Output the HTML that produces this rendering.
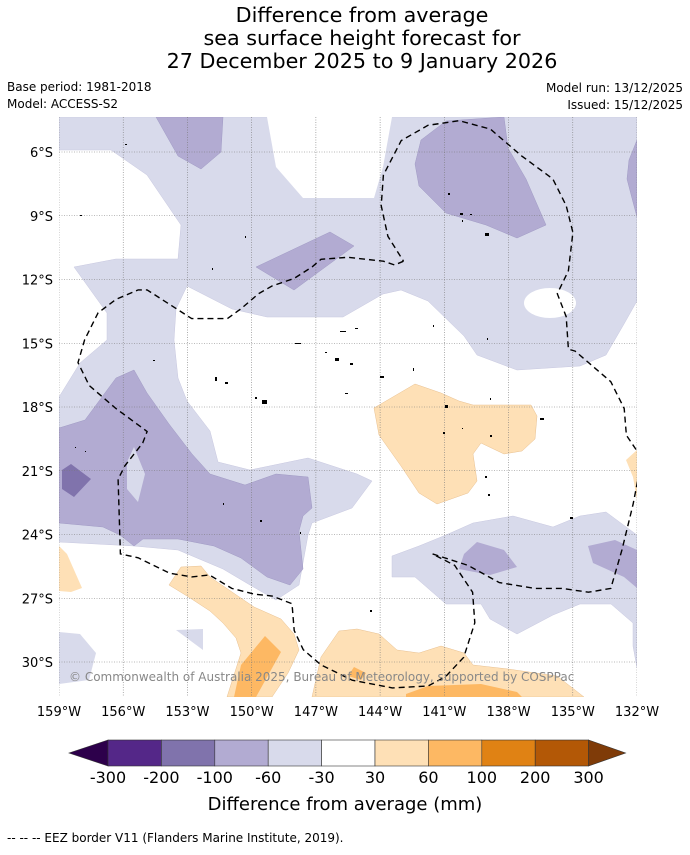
<!DOCTYPE html>
<html><head><meta charset="utf-8"><style>
body{margin:0;background:#fff;font-family:"Liberation Sans","DejaVu Sans",sans-serif;}
svg text{font-family:"DejaVu Sans","Liberation Sans",sans-serif;}
</style></head><body>
<svg id="chart" width="690" height="850" viewBox="0 0 690 850" xmlns="http://www.w3.org/2000/svg">
<g font-size="20.7" text-anchor="middle" fill="#000">
<text x="362" y="22">Difference from average</text>
<text x="362" y="45">sea surface height forecast for</text>
<text x="362" y="68">27 December 2025 to 9 January 2026</text>
</g>
<g font-size="12" fill="#000">
<text x="7" y="91">Base period: 1981-2018</text>
<text x="7" y="108">Model: ACCESS-S2</text>
<text x="683" y="92" text-anchor="end">Model run: 13/12/2025</text>
<text x="683" y="109" text-anchor="end">Issued: 15/12/2025</text>
</g>
<defs><clipPath id="mapclip"><rect x="59" y="117" width="578" height="580"/></clipPath></defs>
<g id="map" clip-path="url(#mapclip)">
<rect x="59" y="117" width="578" height="580" fill="#fff"/>
<g stroke-width="0.5">
<polygon fill="#d8daeb" stroke="#c8c8e0" points="59,117 637,117 637,301 624,324 606,355 580,366 517,370 477,355 464,336 428,301 401,290 383,294 343,317 267,317 232,309 187,286 176,309 174,340 178,378 187,401 210,431 218,462 250,470 308,458 357,474 372,481 352,508 312,523 308,535 299,585 276,600 250,585 223,569 178,550 134,546 59,542 59,397 80,363 107,340 107,313 74,267 116,259 178,259 181,225 147,175 111,150 59,150"/>
<polygon fill="#fff" stroke="none" points="267,117 392,117 383,167 374,198 303,198 276,167"/>
<ellipse cx="550" cy="303" rx="26" ry="15" fill="#fff"/>
<polygon fill="#d8daeb" stroke="#c8c8e0" points="392,556 419,546 446,535 473,523 513,516 553,527 580,516 606,512 637,535 637,668 633,646 633,623 611,604 580,604 553,615 517,634 490,619 481,604 446,604 415,577 392,577"/>
<polygon fill="#d8daeb" points="59,632 80,634 96,653 89,680 59,684"/>
<polygon fill="#d8daeb" points="176,630 203,629 203,650"/>
<polygon fill="#b2abd2" stroke="#a09ac4" points="156,117 223,117 221,152 201,169 178,156"/>
<polygon fill="#b2abd2" stroke="#a09ac4" points="256,267 330,232 354,246 294,290"/>
<polygon fill="#b2abd2" stroke="#a09ac4" points="421,140 446,121 504,117 508,148 526,179 546,225 517,238 486,225 446,213 419,186 415,164"/>
<polygon fill="#b2abd2" stroke="#a09ac4" points="637,140 629,160 627,179 633,202 637,217"/>
<polygon fill="#b2abd2" stroke="#a09ac4" points="59,428 85,420 116,378 134,370 147,393 169,424 192,454 210,474 245,485 276,474 308,477 312,508 303,516 299,531 303,569 290,585 267,577 241,558 214,546 178,539 143,539 134,546 120,535 103,527 59,523"/>
<polygon fill="#d8daeb" points="134,447 145,474 138,502 127,489 127,462"/>
<polygon fill="#8073ac" points="62,470 71,464 91,479 74,497 62,489"/>
<polygon fill="#b2abd2" points="464,554 477,542 504,550 517,567 490,575 459,569"/>
<polygon fill="#b2abd2" points="588,546 615,540 637,550 637,588 624,577 593,563"/>
<polygon fill="#fee0b6" stroke="#e8c090" points="374,408 415,384 441,393 459,401 473,405 531,405 537,416 535,439 522,451 504,454 481,443 473,454 477,481 468,493 437,504 419,493 401,466 379,435"/>
<polygon fill="#fee0b6" points="626,460 637,450 637,500 633,477"/>
<polygon fill="#fee0b6" points="59,546 67,554 82,588 71,592 59,591"/>
<polygon fill="#fee0b6" stroke="#e8c090" points="169,585 181,567 201,566 210,577 232,592 254,607 281,619 294,634 299,650 288,673 272,697 227,697 241,653 236,638 223,623 210,611 187,596"/>
<polygon fill="#fdb863" points="241,665 265,636 281,652 256,697 234,697"/>
<polygon fill="#fee0b6" stroke="#e8c090" points="312,697 321,657 339,631 357,629 379,634 397,650 419,653 441,646 464,653 473,665 508,669 557,676 584,697"/>
<polygon fill="#fdb863" points="348,676 354,667 366,673 361,680"/>
<polygon fill="#fdb863" points="406,694 428,686 481,684 517,692 522,697 406,697"/>
</g>
<g id="grid" stroke="#777" stroke-width="0.6" stroke-dasharray="1,1.5"></g>
<path id="eez" fill="none" stroke="#000" stroke-width="1.4" stroke-dasharray="6,4"/>
<g id="islands" fill="#000"></g>
<text x="69" y="681" font-size="12" fill="#888">© Commonwealth of Australia 2025, Bureau of Meteorology, supported by COSPPac</text>
</g>
<g id="axes" font-size="13" fill="#000"></g>
<g id="colorbar"></g>
<text x="345" y="810" font-size="18" text-anchor="middle">Difference from average (mm)</text>
<text x="7" y="842" font-size="12">--  --  -- EEZ border V11 (Flanders Marine Institute, 2019).</text>
</svg>
<script>
const lonTicks=[159,156,153,150,147,144,141,138,135,132];
const latTicks=[6,9,12,15,18,21,24,27,30];
const cbLabels=["-300","-200","-100","-60","-30","30","60","100","200","300"];
const cbColors=["#542788","#8073ac","#b2abd2","#d8daeb","#ffffff","#fee0b6","#fdb863","#e08214","#b35806"];
const cbLowExt="#2d004b", cbHighExt="#7f3b08";
const NS="http://www.w3.org/2000/svg";
const X0=59,X1=637,Y6=152,Y30=662;
function xLon(l){return X0+(159-l)*(X1-X0)/27;}
function yLat(l){return Y6+(l-6)*(Y30-Y6)/24;}
function mk(t,a,p){const e=document.createElementNS(NS,t);for(const k in a)e.setAttribute(k,a[k]);p.appendChild(e);return e;}
const grid=document.getElementById('grid'),axes=document.getElementById('axes');
lonTicks.forEach(l=>{const x=xLon(l);
 const ln=mk('line',{x1:x,x2:x,y1:117,y2:697},grid);
 
 
 const t=mk('text',{x:x,y:716,'text-anchor':'middle'},axes);t.textContent=l+'°W';
 
 });
latTicks.forEach(l=>{const y=yLat(l);
 const ln=mk('line',{x1:59,x2:637,y1:y,y2:y},grid);
 
 
 const t=mk('text',{x:53,y:y+5,'text-anchor':'end'},axes);t.textContent=l+'°S';
 
 });
const eezPts=[[905,395],[885,405],[860,395],[780,385],[720,390],[700,410],[660,440],[610,460],[580,480],[540,520],[510,545],[430,545],[330,470],[310,470],[260,495],[220,530],[190,600],[175,660],[200,720],[260,780],[330,840],[320,870],[280,930],[265,965],[270,1160],[310,1170],[380,1210],[430,1220],[470,1215],[520,1250],[570,1265],[610,1270],[655,1290],[660,1360],[680,1410],[720,1450],[790,1490],[880,1510],[960,1505],[1000,1480],[1040,1430],[1065,1340],[1060,1260],[1020,1190],[970,1160],[1050,1190],[1120,1235],[1200,1250],[1260,1250],[1320,1260],[1370,1250],[1395,1150],[1420,1030],[1440,910],[1405,850],[1400,780],[1370,710],[1290,630],[1275,625],[1270,540],[1250,480],[1275,420],[1285,320],[1270,250],[1240,180],[1170,120],[1100,50],[1030,28],[960,40],[900,80],[860,170],[855,250],[870,330],[905,395]];
document.getElementById('eez').setAttribute('d',eezPts.map((p,i)=>(i?'L':'M')+(p[0]/2.243).toFixed(1)+','+(110+p[1]/2.613).toFixed(1)).join(' '));
const isl=[[125,144,2,1],[80,215,2,1],[245,236,1,2],[212,268,1,2],[448,193,2,2],[460,213,3,2],[470,214,2,1],[485,233,4,3],[462,220,1,2],[340,331,6,1],[355,328,3,1],[295,343,6,1],[325,352,2,1],[335,358,4,3],[350,363,3,2],[380,376,4,2],[413,368,1,3],[215,377,2,4],[225,382,3,2],[262,400,5,4],[255,397,2,2],[345,393,3,1],[445,405,3,3],[490,398,1,2],[443,432,2,2],[462,428,1,1],[490,435,2,2],[485,476,2,2],[540,418,4,2],[570,517,3,2],[260,520,2,2],[223,503,1,2],[300,532,1,2],[370,610,2,2],[488,494,2,2],[75,447,1,1],[85,451,1,1],[433,325,1,2],[487,338,1,2],[153,360,2,1]];
const ig=document.getElementById('islands');
isl.forEach(p=>{const r=mk('rect',{x:p[0],y:p[1],width:p[2],height:p[3]},ig);
 
 });
const cb=document.getElementById('colorbar');
const bx0=108,bw=53.4,by=740,bh=26;
const lt=mk('polygon',{points:`69,${by+bh/2} ${bx0},${by} ${bx0},${by+bh}`,fill:cbLowExt,stroke:'#333','stroke-width':0.6},cb);


cbColors.forEach((c,i)=>{const r=mk('rect',{x:bx0+i*bw,y:by,width:bw,height:bh,fill:c,stroke:'#333','stroke-width':0.6},cb);
 
 });
const xe=bx0+cbColors.length*bw;
const ht=mk('polygon',{points:`${xe},${by} ${xe+37},${by+bh/2} ${xe},${by+bh}`,fill:cbHighExt,stroke:'#333','stroke-width':0.6},cb);


cbLabels.forEach((s,i)=>{const t=mk('text',{x:bx0+i*bw,y:783,'font-size':16,'text-anchor':'middle'},cb);t.textContent=s;
 
 });
</script>
</body></html>
